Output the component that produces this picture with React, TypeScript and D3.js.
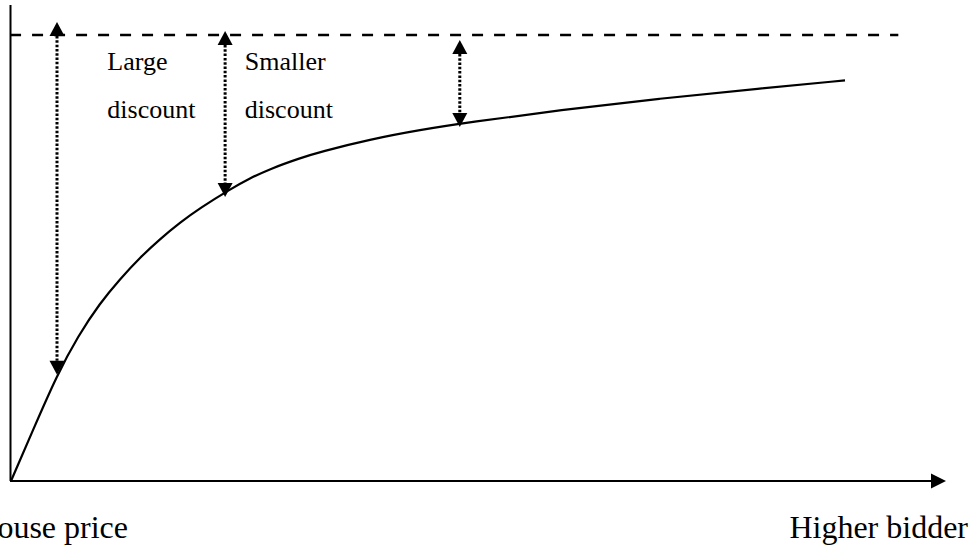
import React from "react";
import * as d3 from "d3";

// Curve: price obtained vs bidder (arbitrary units, list price = 100)
const curveX = [0, 2.35, 4.92, 7.17, 9.52, 11.66, 13.8, 15.94, 18.07, 20.21, 23.42, 25.56, 27.7, 30.91, 33.05, 38.4, 43.74, 49.09, 58.72, 69.41, 80.11, 89.2];
const curveY = [0, 11.43, 23.77, 32.51, 39.91, 45.29, 50.11, 54.26, 57.94, 61.17, 65.4, 67.87, 69.98, 72.4, 73.79, 76.59, 78.72, 80.45, 83.18, 85.76, 88.0, 89.82];

// Reference (dashed) level
const refLevel = 100;
const refStart = -0.1;
const refEnd = 94.9;

// Double arrows showing the discount
const arrowX = [4.92, 22.9, 48.0];
const arrowTop = [102.9, 100.9, 98.9];
const arrowBottom = [23.8, 63.7, 79.4];

// Text labels
const labelText = [["Large", "discount"], ["Smaller", "discount"]];
const labelX = [10.3, 25.0];
const axisLabels = ["House price", "Higher bidder"];

const W = 970;
const H = 547;

export default function App() {
  const x = d3.scaleLinear().domain([0, 100]).range([11, 946]);
  const y = d3.scaleLinear().domain([0, 100]).range([481, 35]);

  const pts: [number, number][] = curveX.map((v, i) => [x(v), y(curveY[i])]);
  const line = d3.line().curve(d3.curveBasis);
  const curvePath = line(pts) || "";

  const headH = 14;
  const headW = 7.5;
  const font = "'Liberation Serif', 'Times New Roman', serif";

  return (
    <svg width={W} height={H} style={{ position: "absolute", left: 0, top: 0, background: "#fff" }}>
      {/* y axis */}
      <line x1={x(0) - 0.5} y1={5} x2={x(0) - 0.5} y2={y(0)} stroke="#000" strokeWidth={2} />
      {/* x axis */}
      <line x1={x(0) - 1} y1={y(0)} x2={x(100) - headH} y2={y(0)} stroke="#000" strokeWidth={2} />
      <path
        d={`M${x(100)},${y(0)} L${x(100) - headH - 1},${y(0) - headW} L${x(100) - headH - 1},${y(0) + headW} Z`}
        fill="#000"
      />
      {/* dashed reference line */}
      <line
        x1={x(refStart)}
        y1={y(refLevel)}
        x2={x(refEnd)}
        y2={y(refLevel)}
        stroke="#000"
        strokeWidth={2.5}
        strokeDasharray="11,11"
      />
      {/* curve */}
      <path d={curvePath} fill="none" stroke="#000" strokeWidth={2.2} />
      {/* arrows */}
      {arrowX.map((ax, i) => {
        const px = x(ax);
        const t = y(arrowTop[i]);
        const b = y(arrowBottom[i]);
        return (
          <g key={i}>
            <line
              x1={px}
              y1={t + headH}
              x2={px}
              y2={b - headH}
              stroke="#000"
              strokeWidth={3}
              strokeDasharray="2.5,1.8"
            />
            <path d={`M${px},${t} L${px - headW},${t + headH} L${px + headW},${t + headH} Z`} fill="#000" />
            <path d={`M${px},${b} L${px - headW},${b - headH} L${px + headW},${b - headH} Z`} fill="#000" />
          </g>
        );
      })}
      {/* labels */}
      {labelText.map((lines, i) => (
        <text key={i} fontFamily={font} fontSize={26} fill="#000">
          <tspan x={x(labelX[i])} y={70}>{lines[0]}</tspan>
          <tspan x={x(labelX[i])} y={118}>{lines[1]}</tspan>
        </text>
      ))}
      <text x={128} y={538} textAnchor="end" fontFamily={font} fontSize={32} fill="#000">
        {axisLabels[0]}
      </text>
      <text x={968} y={538} textAnchor="end" fontFamily={font} fontSize={32} fill="#000">
        {axisLabels[1]}
      </text>
    </svg>
  );
}
